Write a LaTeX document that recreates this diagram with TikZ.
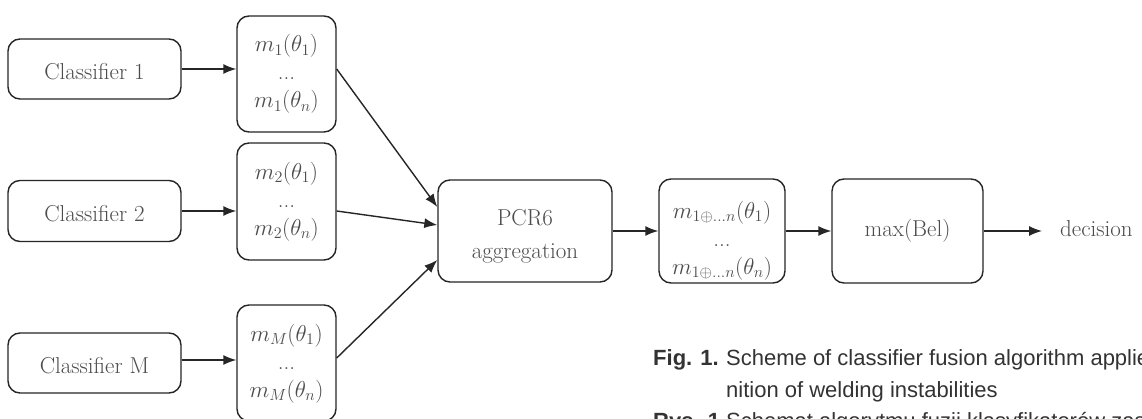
\RequirePackage{fix-cm}
\documentclass[tikz,border=0pt]{standalone}
\usepackage{fontspec}
\newfontfamily\capfont{Liberation Sans}
\usetikzlibrary{arrows.meta}
\newcommand{\lnstrut}{\rule[-8pt]{0pt}{28pt}}
\tikzset{
  box/.style={draw=black!85, line width=1.4pt, rounded corners=12pt, text=black!70, align=center, inner sep=0pt, font=\fontsize{23}{28}\selectfont},
  conn/.style={draw=black!85, line width=1.4pt, -{Latex[length=13pt,width=10pt]}},
  captxt/.style={anchor=base west, inner sep=0pt, text=black!80, font=\capfont\fontsize{22}{26}\selectfont}
}
\begin{document}
\begin{tikzpicture}[x=1pt,y=-1pt]
\useasboundingbox (0,0) rectangle (1142,419);
\clip (0,0) rectangle (1142,419);
\fill[white] (0,0) rectangle (1142,419);
% classifiers
\node[box, minimum width=173pt, minimum height=60pt] (c1) at (94.5,69) {\rule{0pt}{22pt}Classifier 1};
\node[box, minimum width=173pt, minimum height=61pt] (c2) at (94.5,211) {\rule{0pt}{22pt}Classifier 2};
\node[box, minimum width=173pt, minimum height=60pt] (cM) at (94.5,363) {\rule{0pt}{22pt}Classifier M};
% mass boxes
\node[box, minimum width=99pt, minimum height=116pt] (m1) at (286.5,74) {\lnstrut$m_1(\theta_1)$\\\lnstrut...\\\lnstrut$m_1(\theta_n)$};
\node[box, minimum width=99pt, minimum height=117pt] (m2) at (286.5,201.5) {\lnstrut$m_2(\theta_1)$\\\lnstrut...\\\lnstrut$m_2(\theta_n)$};
\node[box, minimum width=99pt, minimum height=116pt] (m3) at (286.5,363) {\lnstrut$m_M(\theta_1)$\\\lnstrut...\\\lnstrut$m_M(\theta_n)$};
% aggregation
\node[box, minimum width=174pt, minimum height=102pt] (pcr) at (525,231) {\rule[-8pt]{0pt}{39pt}PCR6\\\rule[-8pt]{0pt}{32pt}aggregation};
\node[box, minimum width=126pt, minimum height=104pt] (mf) at (722,231) {\rule[-8pt]{0pt}{47pt}$m_{1\oplus\dots n}(\theta_1)$\\\lnstrut...\\\lnstrut$m_{1\oplus\dots n}(\theta_n)$};
\node[box, minimum width=151pt, minimum height=104pt] (mx) at (907.5,231) {max(Bel)};
\node[anchor=base west, inner sep=0pt, text=black!70, font=\fontsize{23}{28}\selectfont] (dec) at (1060,237) {decision};
% connectors
\draw[conn] (c1.east) -- (c1.east -| m1.west);
\draw[conn] (c2.east) -- (c2.east -| m2.west);
\draw[conn] ([yshift=3pt]cM.east) -- ([yshift=3pt]cM.east -| m3.west);
\draw[conn] (m1.east |- c1.east) -- ([yshift=24pt]pcr.west);
\draw[conn] (m2.east |- c2.east) -- ([yshift=6pt]pcr.west);
\draw[conn] ([yshift=5pt]m3.east) -- ([yshift=-29pt]pcr.west);
\draw[conn] (pcr.east) -- (mf.west);
\draw[conn] (mf.east) -- (mx.west);
\coordinate (decend) at (1042,231);
\draw[conn] (mx.east) -- (decend);
% caption (cropped by the frame, as in the reference)
\node[captxt] (f1) at (653,365) {\bfseries Fig. 1.};
\node[captxt] (f1t) at (726,365) {Scheme of classifier fusion algorithm applied to recog-};
\node[captxt] (f1u) at (726,397) {nition of welding instabilities};
\node[captxt] (r1) at (653,428) {\bfseries Rys. 1.};
\node[captxt] (r1t) at (726,428) {Schemat algorytmu fuzji klasyfikatorów zastosowanego do};
\end{tikzpicture}
\end{document}
